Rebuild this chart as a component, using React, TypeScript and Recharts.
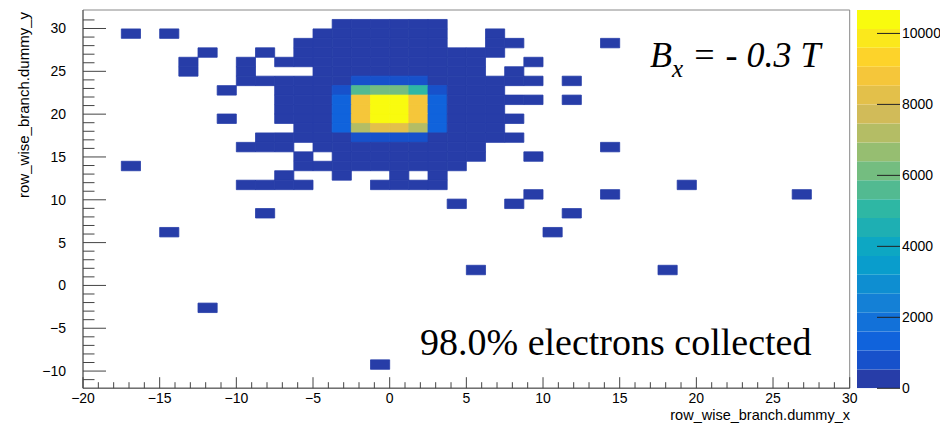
import React from 'react';
import { ScatterChart, Scatter, XAxis, YAxis, ReferenceArea, BarChart, Bar } from 'recharts';

// ---- histogram binning ----
const X_MIN = -20;
const X_MAX = 30;
const X_BIN = 1.25;
const Y_MIN = -12;
const Y_BIN = 1.104;
const Y_MAX = Y_MIN + 40 * Y_BIN;
const Z_MAX = 10660;
const N_BANDS = 20;

// tick labels
const xMajorTicks = [-20, -15, -10, -5, 0, 5, 10, 15, 20, 25, 30];
const yMajorTicks = [-10, -5, 0, 5, 10, 15, 20, 25, 30];
const zTicks = [0, 2000, 4000, 6000, 8000, 10000];

// ---- bin contents: [yBin, [[xBin, count], ...]] ----
const rows: [number, [number, number][]][] = [
  [38, [[13, 30], [14, 85], [15, 110], [16, 105], [17, 60], [18, 25]]],
  [37, [[2, 1], [4, 1], [12, 20], [13, 140], [14, 260], [15, 300], [16, 250], [17, 150], [18, 40], [21, 3]]],
  [36, [[11, 15], [12, 90], [13, 240], [14, 380], [15, 430], [16, 400], [17, 260], [18, 80], [21, 5], [22, 2], [27, 1]]],
  [35, [[6, 1], [9, 2], [11, 30], [12, 150], [13, 330], [14, 470], [15, 500], [16, 490], [17, 400], [18, 170], [19, 40], [20, 12], [21, 4]]],
  [34, [[5, 1], [8, 2], [10, 8], [11, 50], [12, 220], [13, 420], [14, 510], [15, 520], [16, 515], [17, 480], [18, 250], [19, 60], [20, 10], [23, 2]]],
  [33, [[5, 1], [8, 3], [12, 110], [13, 300], [14, 480], [15, 520], [16, 525], [17, 510], [18, 330], [19, 90], [20, 15], [22, 3]]],
  [32, [[8, 4], [9, 8], [10, 25], [11, 90], [12, 260], [13, 470], [14, 760], [15, 830], [16, 840], [17, 780], [18, 480], [19, 200], [20, 70], [21, 20], [22, 6], [23, 2], [25, 1]]],
  [31, [[7, 1], [10, 15], [11, 60], [12, 210], [13, 700], [14, 5600], [15, 6200], [16, 6150], [17, 5100], [18, 720], [19, 230], [20, 60], [21, 10]]],
  [30, [[10, 20], [11, 80], [12, 300], [13, 1150], [14, 8700], [15, 10400], [16, 10450], [17, 8650], [18, 1180], [19, 320], [20, 90], [21, 30], [22, 8], [23, 3], [25, 1]]],
  [29, [[10, 25], [11, 90], [12, 320], [13, 1350], [14, 8950], [15, 10600], [16, 10620], [17, 8900], [18, 1400], [19, 340], [20, 85], [21, 15]]],
  [28, [[7, 1], [10, 18], [11, 85], [12, 310], [13, 1250], [14, 8800], [15, 10500], [16, 10550], [17, 8750], [18, 1300], [19, 330], [20, 95], [21, 25], [22, 4]]],
  [27, [[11, 60], [12, 250], [13, 1100], [14, 7200], [15, 8300], [16, 8250], [17, 7150], [18, 1150], [19, 260], [20, 70], [21, 12]]],
  [26, [[9, 3], [10, 12], [11, 40], [12, 150], [13, 480], [14, 850], [15, 900], [16, 880], [17, 820], [18, 500], [19, 160], [20, 45], [21, 10], [22, 2]]],
  [25, [[8, 2], [9, 5], [10, 8], [12, 60], [13, 230], [14, 420], [15, 470], [16, 460], [17, 410], [18, 240], [19, 55], [20, 9], [27, 1]]],
  [24, [[11, 6], [13, 90], [14, 240], [15, 330], [16, 340], [17, 300], [18, 180], [19, 50], [20, 7], [23, 2]]],
  [23, [[2, 1], [11, 4], [12, 20], [13, 70], [14, 150], [15, 190], [16, 180], [17, 120], [18, 40], [19, 8]]],
  [22, [[10, 2], [13, 25], [16, 60], [18, 20]]],
  [21, [[8, 1], [9, 2], [10, 3], [11, 2], [15, 10], [16, 18], [17, 14], [18, 6], [31, 1]]],
  [20, [[23, 2], [27, 1], [37, 1]]],
  [19, [[19, 4], [22, 2]]],
  [18, [[9, 1], [25, 1]]],
  [16, [[4, 1], [24, 1]]],
  [12, [[20, 2], [30, 1]]],
  [8, [[6, 1]]],
  [2, [[15, 1]]],
];

// ---- ROOT kBird palette ----
const STOPS = [0.0, 0.125, 0.25, 0.375, 0.5, 0.625, 0.75, 0.875, 1.0];
const RED = [0.2082, 0.0592, 0.078, 0.0232, 0.1802, 0.5301, 0.8186, 0.9956, 0.9764];
const GREEN = [0.1664, 0.3599, 0.5041, 0.6419, 0.7178, 0.7492, 0.7328, 0.7862, 0.9832];
const BLUE = [0.5293, 0.8684, 0.8385, 0.7914, 0.6425, 0.4662, 0.3499, 0.1968, 0.0539];

function bird(f: number): string {
  let s = 0;
  while (s < STOPS.length - 2 && f > STOPS[s + 1]) s++;
  const u = (f - STOPS[s]) / (STOPS[s + 1] - STOPS[s]);
  const ch = (a: number[]) => Math.round(255 * (a[s] + (a[s + 1] - a[s]) * u));
  return `rgb(${ch(RED)},${ch(GREEN)},${ch(BLUE)})`;
}
function bandColor(k: number): string {
  const c = Math.floor(((k + 0.99) * 255) / N_BANDS);
  return bird(c / 254);
}
function cellColor(v: number): string {
  const k = Math.min(N_BANDS - 1, Math.floor(v / (Z_MAX / N_BANDS)));
  return bandColor(k);
}

const cells = rows.flatMap(([j, list]) =>
  list.map(([i, v]) => ({
    x1: X_MIN + i * X_BIN,
    x2: X_MIN + (i + 1) * X_BIN,
    y1: Y_MIN + j * Y_BIN,
    y2: Y_MIN + (j + 1) * Y_BIN,
    x: X_MIN + (i + 0.5) * X_BIN,
    y: Y_MIN + (j + 0.5) * Y_BIN,
    v,
  }))
);

const xTicksAll: number[] = [];
for (let t = X_MIN; t <= X_MAX; t++) xTicksAll.push(t);
const yTicksAll: number[] = [];
for (let t = -11; t <= 31; t++) yTicksAll.push(t);

const bands = Array.from({ length: N_BANDS }, (_, k) => k);
const bandRow: Record<string, number | string> = { name: 'z' };
bands.forEach((k) => (bandRow[`b${k}`] = Z_MAX / N_BANDS));
const bandData = [bandRow];

const fmt = (v: number) => (v < 0 ? `\u2212${Math.abs(v)}` : `${v}`);
const SANS = 'Liberation Sans, Arial, Helvetica, sans-serif';
const SERIF = 'Liberation Serif, Times New Roman, DejaVu Serif, serif';

const YTick = (props: any) => {
  const { x, y, payload } = props;
  const v = payload.value as number;
  const major = yMajorTicks.includes(v);
  return (
    <g>
      <line x1={x} x2={x + (major ? 23 : 11.5)} y1={y} y2={y} stroke="#444" strokeWidth={1} />
      {major && (
        <text x={x - 17} y={y + 5} textAnchor="end" fontSize={14} style={{ fontFamily: SANS }} fill="#000">
          {fmt(v)}
        </text>
      )}
    </g>
  );
};

const XTick = (props: any) => {
  const { x, y, payload } = props;
  const v = payload.value as number;
  const major = xMajorTicks.includes(v);
  return (
    <g>
      <line x1={x} x2={x} y1={y} y2={y - (major ? 11 : 6)} stroke="#444" strokeWidth={1} />
      {major && (
        <text x={x} y={y + 15} textAnchor="middle" fontSize={14} style={{ fontFamily: SANS }} fill="#000">
          {fmt(v)}
        </text>
      )}
    </g>
  );
};

const ZTick = (props: any) => {
  const { x, y, payload } = props;
  return (
    <g>
      <line x1={x - 23} x2={x} y1={y} y2={y} stroke="#222" strokeWidth={1} />
      <text x={x + 2} y={y + 5} textAnchor="start" fontSize={14} style={{ fontFamily: SANS }} fill="#000">
        {payload.value}
      </text>
    </g>
  );
};

export default function App() {
  return (
    <div style={{ position: 'absolute', left: 0, top: 0, width: 940, height: 423, background: '#fff' }}>
      <div style={{ position: 'absolute', left: 0, top: 0 }}>
        <ScatterChart width={940} height={423} margin={{ top: 10, right: 90.3, bottom: 4.8, left: 23 }}>
          <XAxis
            type="number"
            dataKey="x"
            domain={[X_MIN, X_MAX]}
            ticks={xTicksAll}
            interval={0}
            tickSize={0}
            tickMargin={0}
            tick={<XTick />}
            height={30}
            axisLine={{ stroke: '#555' }}
            allowDataOverflow
          />
          <YAxis
            type="number"
            dataKey="y"
            domain={[Y_MIN, Y_MAX]}
            ticks={yTicksAll}
            interval={0}
            tickSize={0}
            tickMargin={0}
            tick={<YTick />}
            width={60}
            axisLine={{ stroke: '#555' }}
            allowDataOverflow
          />
          <Scatter data={cells} fill="transparent" isAnimationActive={false} />
          {cells.map((c, n) => (
            <ReferenceArea
              key={n}
              x1={c.x1}
              x2={c.x2}
              y1={c.y1}
              y2={c.y2}
              fill={cellColor(c.v)}
              fillOpacity={1}
              stroke={cellColor(c.v)}
              strokeWidth={0.8}
              ifOverflow="visible"
            />
          ))}
          <ReferenceArea
            x1={X_MIN}
            x2={X_MAX}
            y1={Y_MIN}
            y2={Y_MAX}
            fill="none"
            fillOpacity={0}
            stroke="#888"
            strokeWidth={1}
          />
        </ScatterChart>
      </div>
      <div style={{ position: 'absolute', left: 840, top: 0 }}>
        <BarChart width={100} height={423} data={bandData} margin={{ top: 10, right: 0, bottom: 34.7, left: 17 }} barCategoryGap={0}>
          <XAxis dataKey="name" hide />
          <YAxis
            orientation="right"
            type="number"
            domain={[0, Z_MAX]}
            ticks={zTicks}
            interval={0}
            tickSize={0}
            tickMargin={0}
            tick={<ZTick />}
            width={40}
            axisLine={false}
            allowDataOverflow
          />
          {bands.map((k) => (
            <Bar key={k} dataKey={`b${k}`} stackId="z" fill={bandColor(k)} isAnimationActive={false} />
          ))}
        </BarChart>
      </div>
      <svg width={940} height={423} style={{ position: 'absolute', left: 0, top: 0, pointerEvents: 'none' }}>
        <text
          transform="translate(29,12) rotate(-90)"
          x={0}
          y={0}
          textAnchor="end"
          fontSize={15}
          style={{ fontFamily: SANS }}
          fill="#000"
        >
          row_wise_branch.dummy_y
        </text>
        <text x={850} y={420} textAnchor="end" fontSize={14.5} style={{ fontFamily: SANS }} fill="#000">
          row_wise_branch.dummy_x
        </text>
        <text x={650} y={67} fontSize={36} fontStyle="italic" style={{ fontFamily: SERIF }} fill="#000">
          B
          <tspan dy={10} fontSize={25}>x</tspan>
          <tspan dy={-10}> = - 0.3 T</tspan>
        </text>
        <text x={420} y={355} fontSize={38} style={{ fontFamily: SERIF }} fill="#000">
          98.0% electrons collected
        </text>
      </svg>
    </div>
  );
}
